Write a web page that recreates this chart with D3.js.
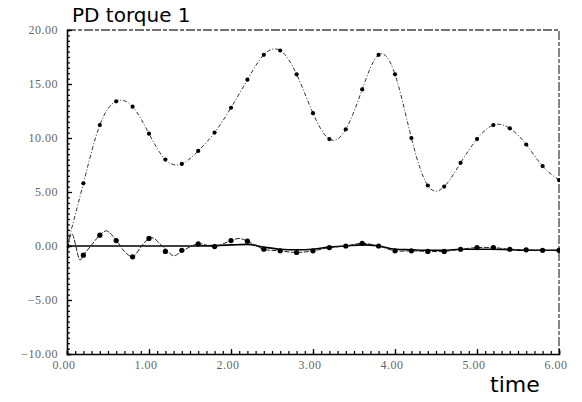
<!DOCTYPE html>
<meta charset="utf-8">
<script src="https://d3js.org/d3.v7.min.js"></script>
<style>
  body { margin: 0; background: #fff; }
</style>
<div id="chart"></div>
<script>

// sample times (dots every 0.2 s)
var times = [0.0, 0.2, 0.4, 0.6, 0.8, 1.0, 1.2, 1.4, 1.6, 1.8, 2.0, 2.2, 2.4, 2.6, 2.8, 3.0,
             3.2, 3.4, 3.6, 3.8, 4.0, 4.2, 4.4, 4.6, 4.8, 5.0, 5.2, 5.4, 5.6, 5.8, 6.0];

// upper curve: PD torque
var torque = [0.0, 5.8, 11.2, 13.4, 12.9, 10.4, 8.0, 7.6, 8.8, 10.5, 12.8, 15.4, 17.7, 18.1, 15.9, 12.3,
              9.9, 10.8, 14.5, 17.7, 15.9, 10.0, 5.6, 5.5, 7.7, 9.9, 11.2, 10.9, 9.4, 7.4, 6.1];

// lower oscillating curve, values at the dots
var errDots = [0.0, -0.85, 1.0, 0.5, -1.0, 0.7, -0.5, -0.4, 0.2, -0.05, 0.5, 0.45, -0.3, -0.45, -0.6, -0.45,
               -0.15, 0.0, 0.25, 0.0, -0.45, -0.45, -0.5, -0.5, -0.3, -0.15, -0.15, -0.3, -0.35, -0.4, -0.4];

// lower oscillating curve, extra points read between the dots
var errT = [0.0, 0.06, 0.16, 0.2, 0.3, 0.4, 0.48, 0.6, 0.7, 0.8, 0.91, 1.0, 1.05, 1.16, 1.22, 1.3, 1.42,
            1.6, 1.8, 2.0, 2.1, 2.2, 2.4, 2.6, 2.8, 3.0, 3.2, 3.4, 3.6, 3.8, 4.0, 4.2, 4.4, 4.6, 4.8,
            5.0, 5.2, 5.4, 5.6, 5.8, 6.0];
var errV = [0.0, 1.1, -1.3, -0.85, 0.1, 1.0, 1.4, 0.55, -0.5, -1.0, 0.0, 0.7, 0.75, 0.0, -0.4, -0.9, -0.4,
            0.2, -0.05, 0.5, 0.7, 0.45, -0.3, -0.45, -0.6, -0.45, -0.15, 0.0, 0.25, 0.0, -0.45, -0.45,
            -0.5, -0.5, -0.3, -0.15, -0.15, -0.3, -0.35, -0.4, -0.4];

// solid reference line near zero
var refT = [0.0, 1.6, 2.0, 2.2, 2.4, 2.6, 2.8, 3.0, 3.2, 3.4, 3.6, 3.8, 4.0, 4.2, 4.4, 4.6, 4.8,
            5.0, 5.2, 5.4, 5.6, 5.8, 6.0];
var refV = [0.0, 0.0, 0.1, 0.15, -0.1, -0.3, -0.35, -0.3, -0.1, 0.0, 0.1, 0.0, -0.3, -0.35, -0.4, -0.4,
            -0.3, -0.3, -0.3, -0.35, -0.4, -0.4, -0.4];

var xTicks = [0, 1, 2, 3, 4, 5, 6];
var yTicks = [20, 15, 10, 5, 0, -5, -10];

var W = 582, H = 402;
var pLeft = 67, pRight = 559, pTop = 30, pBottom = 354;

var svg = d3.select("#chart").append("svg")
    .attr("width", W)
    .attr("height", H);

var x = d3.scaleLinear().domain([0, 6]).range([pLeft, pRight]);
var y = d3.scaleLinear().domain([-10, 20]).range([pBottom, pTop]);

svg.append("clipPath").attr("id", "plot")
  .append("rect")
    .attr("x", pLeft).attr("y", pTop - 2)
    .attr("width", pRight - pLeft + 1).attr("height", pBottom - pTop + 2);

// frame: dashed top and right
svg.append("path")
    .attr("d", "M" + pLeft + "," + pTop + "H" + pRight + "V" + pBottom)
    .attr("fill", "none")
    .attr("stroke", "#444")
    .attr("stroke-width", 1.3)
    .attr("stroke-dasharray", "9,2,4,2");

// axes with inward ticks
var fmt = function(d) { return d3.format(".2f")(d).replace("-", "\u2212"); };

svg.append("g")
    .attr("transform", "translate(0," + pBottom + ")")
    .call(d3.axisTop(x).tickValues(d3.range(0, 6.001, 0.1)).tickSize(3).tickFormat(""))
    .call(function(g) {
      g.select(".domain").attr("stroke-width", 1.6);
      g.selectAll(".tick line").attr("stroke-width", 1.2);
    });
svg.append("g")
    .attr("transform", "translate(0," + pBottom + ")")
    .call(d3.axisTop(x).tickValues(xTicks).tickSize(5).tickFormat(""))
    .call(function(g) { g.select(".domain").remove(); g.selectAll(".tick line").attr("stroke-width", 1.3); });

svg.append("g")
    .attr("transform", "translate(" + pLeft + ",0)")
    .call(d3.axisRight(y).tickValues(d3.range(-10, 20.001, 0.5)).tickSize(3).tickFormat(""))
    .call(function(g) {
      g.select(".domain").attr("stroke-width", 1.6);
      g.selectAll(".tick line").attr("stroke-width", 1.2);
    });
svg.append("g")
    .attr("transform", "translate(" + pLeft + ",0)")
    .call(d3.axisRight(y).tickValues(yTicks).tickSize(5).tickFormat(""))
    .call(function(g) { g.select(".domain").remove(); g.selectAll(".tick line").attr("stroke-width", 1.3); });

// tick labels
svg.selectAll(".xlab").data(xTicks).enter().append("text")
    .attr("class", "xlab")
    .attr("x", function(d) { return x(d) - 3; })
    .attr("y", pBottom + 15)
    .attr("text-anchor", "middle")
    .attr("font-family", "Liberation Serif, serif")
    .attr("font-size", 12)
    .attr("letter-spacing", 0.5)
    .attr("fill", "#666")
    .text(fmt);

svg.selectAll(".ylab").data(yTicks).enter().append("text")
    .attr("class", "ylab")
    .attr("x", pLeft - 9)
    .attr("y", function(d) { return y(d) + 4; })
    .attr("text-anchor", "end")
    .attr("font-family", "Liberation Serif, serif")
    .attr("font-size", 12)
    .attr("letter-spacing", 0.5)
    .attr("fill", "#666")
    .text(fmt);

// titles
svg.append("text")
    .attr("x", 72).attr("y", 22)
    .attr("font-family", "DejaVu Sans, sans-serif")
    .attr("font-size", 20)
    .attr("fill", "#000")
    .text("PD torque 1");

svg.append("text")
    .attr("x", 490).attr("y", 392)
    .attr("font-family", "DejaVu Sans, sans-serif")
    .attr("font-size", 22)
    .attr("fill", "#000")
    .text("time");

var plot = svg.append("g").attr("clip-path", "url(#plot)");

// solid reference line near zero
var refLine = d3.line()
    .x(function(d, i) { return x(refT[i]); })
    .y(function(d) { return y(d); })
    .curve(d3.curveMonotoneX);
plot.append("path")
    .attr("d", refLine(refV))
    .attr("fill", "none")
    .attr("stroke", "#000")
    .attr("stroke-width", 1.6);

// oscillating lower curve
var errLine = d3.line()
    .x(function(d, i) { return x(errT[i]); })
    .y(function(d) { return y(d); })
    .curve(d3.curveCatmullRom);
plot.append("path")
    .attr("d", errLine(errV))
    .attr("fill", "none")
    .attr("stroke", "#222")
    .attr("stroke-width", 1)
    .attr("stroke-dasharray", "5,1.5");

// upper torque curve
var torqueLine = d3.line()
    .x(function(d, i) { return x(times[i]); })
    .y(function(d) { return y(d); })
    .curve(d3.curveNatural);
plot.append("path")
    .attr("d", torqueLine(torque))
    .attr("fill", "none")
    .attr("stroke", "#333")
    .attr("stroke-width", 1)
    .attr("stroke-dasharray", "4,2,1,2");

// dots
plot.selectAll(".tdot").data(torque).enter().append("circle")
    .attr("class", "tdot")
    .attr("cx", function(d, i) { return x(times[i]); })
    .attr("cy", function(d) { return y(d); })
    .attr("r", 2.1)
    .attr("fill", "#000");

plot.selectAll(".edot").data(errDots).enter().append("circle")
    .attr("class", "edot")
    .attr("cx", function(d, i) { return x(times[i]); })
    .attr("cy", function(d) { return y(d); })
    .attr("r", 2.6)
    .attr("fill", "#000");

</script>
